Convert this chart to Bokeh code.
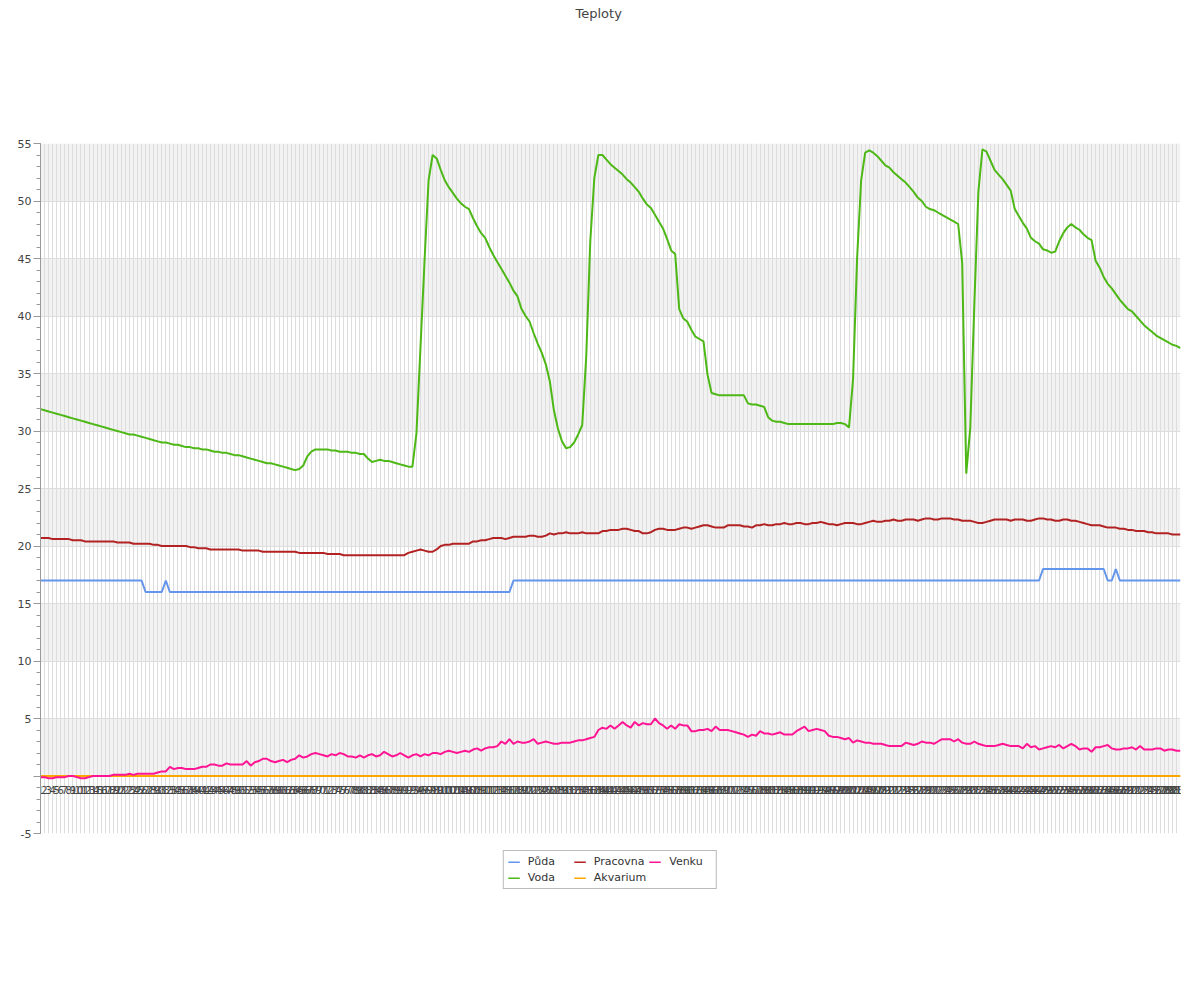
from bokeh.plotting import figure
from bokeh.models import (Range1d, FixedTicker, SingleIntervalTicker, BoxAnnotation, Span,
                          Legend, LegendItem, Grid, Title)
from bokeh.core.properties import value
from bokeh.embed import file_html
from bokeh.resources import INLINE

labels = [str(i) for i in range(1, 284)]

puda = [
    17, 17, 17, 17, 17, 17, 17, 17, 17, 17,
    17, 17, 17, 17, 17, 17, 17, 17, 17, 17,
    17, 17, 17, 17, 17, 17, 16, 16, 16, 16,
    16, 17, 16, 16, 16, 16, 16, 16, 16, 16,
    16, 16, 16, 16, 16, 16, 16, 16, 16, 16,
    16, 16, 16, 16, 16, 16, 16, 16, 16, 16,
    16, 16, 16, 16, 16, 16, 16, 16, 16, 16,
    16, 16, 16, 16, 16, 16, 16, 16, 16, 16,
    16, 16, 16, 16, 16, 16, 16, 16, 16, 16,
    16, 16, 16, 16, 16, 16, 16, 16, 16, 16,
    16, 16, 16, 16, 16, 16, 16, 16, 16, 16,
    16, 16, 16, 16, 16, 16, 16, 17, 17, 17,
    17, 17, 17, 17, 17, 17, 17, 17, 17, 17,
    17, 17, 17, 17, 17, 17, 17, 17, 17, 17,
    17, 17, 17, 17, 17, 17, 17, 17, 17, 17,
    17, 17, 17, 17, 17, 17, 17, 17, 17, 17,
    17, 17, 17, 17, 17, 17, 17, 17, 17, 17,
    17, 17, 17, 17, 17, 17, 17, 17, 17, 17,
    17, 17, 17, 17, 17, 17, 17, 17, 17, 17,
    17, 17, 17, 17, 17, 17, 17, 17, 17, 17,
    17, 17, 17, 17, 17, 17, 17, 17, 17, 17,
    17, 17, 17, 17, 17, 17, 17, 17, 17, 17,
    17, 17, 17, 17, 17, 17, 17, 17, 17, 17,
    17, 17, 17, 17, 17, 17, 17, 17, 17, 17,
    17, 17, 17, 17, 17, 17, 17, 17, 18, 18,
    18, 18, 18, 18, 18, 18, 18, 18, 18, 18,
    18, 18, 18, 18, 17, 17, 18, 17, 17, 17,
    17, 17, 17, 17, 17, 17, 17, 17, 17, 17,
    17, 17, 17,
]

voda = [
    31.9, 31.8, 31.7, 31.6, 31.5, 31.4, 31.3, 31.2, 31.1, 31.0,
    30.9, 30.8, 30.7, 30.6, 30.5, 30.4, 30.3, 30.2, 30.1, 30.0,
    29.9, 29.8, 29.7, 29.7, 29.6, 29.5, 29.4, 29.3, 29.2, 29.1,
    29.0, 29.0, 28.9, 28.8, 28.8, 28.7, 28.6, 28.6, 28.5, 28.5,
    28.4, 28.4, 28.3, 28.2, 28.2, 28.1, 28.1, 28.0, 27.9, 27.9,
    27.8, 27.7, 27.6, 27.5, 27.4, 27.3, 27.2, 27.2, 27.1, 27.0,
    26.9, 26.8, 26.7, 26.6, 26.7, 27.0, 27.8, 28.2, 28.4, 28.4,
    28.4, 28.4, 28.3, 28.3, 28.2, 28.2, 28.2, 28.1, 28.1, 28.0,
    28.0, 27.6, 27.3, 27.4, 27.5, 27.4, 27.4, 27.3, 27.2, 27.1,
    27.0, 26.9, 26.9, 29.8, 37.3, 44.8, 51.8, 54.0, 53.7, 52.7,
    51.8, 51.2, 50.7, 50.2, 49.8, 49.5, 49.3, 48.5, 47.8, 47.2,
    46.8, 46.0, 45.3, 44.7, 44.1, 43.5, 42.9, 42.2, 41.7, 40.6,
    40.0, 39.5, 38.5, 37.6, 36.8, 35.8, 34.3, 31.8, 30.2, 29.1,
    28.5, 28.6, 29.0, 29.7, 30.5, 36.5, 46.5, 52.0, 54.0, 54.0,
    53.6, 53.2, 52.9, 52.6, 52.3, 51.9, 51.6, 51.2, 50.8, 50.2,
    49.7, 49.4, 48.8, 48.2, 47.6, 46.7, 45.7, 45.4, 40.6, 39.8,
    39.5, 38.8, 38.2, 38.0, 37.8, 34.9, 33.3, 33.2, 33.1, 33.1,
    33.1, 33.1, 33.1, 33.1, 33.1, 32.4, 32.3, 32.3, 32.2, 32.1,
    31.2, 30.9, 30.8, 30.8, 30.7, 30.6, 30.6, 30.6, 30.6, 30.6,
    30.6, 30.6, 30.6, 30.6, 30.6, 30.6, 30.6, 30.7, 30.7, 30.6,
    30.3, 34.5, 45.0, 51.8, 54.2, 54.4, 54.2, 53.9, 53.5, 53.1,
    52.9, 52.5, 52.2, 51.9, 51.6, 51.2, 50.8, 50.3, 50.0, 49.5,
    49.3, 49.2, 49.0, 48.8, 48.6, 48.4, 48.2, 48.0, 44.6, 26.3,
    30.3, 41.0, 50.8, 54.5, 54.3, 53.5, 52.7, 52.3, 51.9, 51.4,
    50.9, 49.3, 48.7, 48.1, 47.6, 46.8, 46.5, 46.3, 45.8, 45.7,
    45.5, 45.6, 46.5, 47.2, 47.7, 48.0, 47.7, 47.5, 47.1, 46.8,
    46.6, 44.8, 44.2, 43.4, 42.8, 42.4, 41.9, 41.4, 41.0, 40.6,
    40.4, 40.0, 39.6, 39.2, 38.9, 38.6, 38.3, 38.1, 37.9, 37.7,
    37.5, 37.4, 37.2,
]

pracovna = [
    20.7, 20.7, 20.7, 20.6, 20.6, 20.6, 20.6, 20.6, 20.5, 20.5,
    20.5, 20.4, 20.4, 20.4, 20.4, 20.4, 20.4, 20.4, 20.4, 20.3,
    20.3, 20.3, 20.3, 20.2, 20.2, 20.2, 20.2, 20.2, 20.1, 20.1,
    20.0, 20.0, 20.0, 20.0, 20.0, 20.0, 20.0, 19.9, 19.9, 19.8,
    19.8, 19.8, 19.7, 19.7, 19.7, 19.7, 19.7, 19.7, 19.7, 19.7,
    19.6, 19.6, 19.6, 19.6, 19.6, 19.5, 19.5, 19.5, 19.5, 19.5,
    19.5, 19.5, 19.5, 19.5, 19.4, 19.4, 19.4, 19.4, 19.4, 19.4,
    19.4, 19.3, 19.3, 19.3, 19.3, 19.2, 19.2, 19.2, 19.2, 19.2,
    19.2, 19.2, 19.2, 19.2, 19.2, 19.2, 19.2, 19.2, 19.2, 19.2,
    19.2, 19.4, 19.5, 19.6, 19.7, 19.6, 19.5, 19.5, 19.7, 20.0,
    20.1, 20.1, 20.2, 20.2, 20.2, 20.2, 20.2, 20.4, 20.4, 20.5,
    20.5, 20.6, 20.7, 20.7, 20.7, 20.6, 20.7, 20.8, 20.8, 20.8,
    20.8, 20.9, 20.9, 20.8, 20.8, 20.9, 21.1, 21.0, 21.1, 21.1,
    21.2, 21.1, 21.1, 21.1, 21.2, 21.1, 21.1, 21.1, 21.1, 21.3,
    21.3, 21.4, 21.4, 21.4, 21.5, 21.5, 21.4, 21.3, 21.3, 21.1,
    21.1, 21.2, 21.4, 21.5, 21.5, 21.4, 21.4, 21.4, 21.5, 21.6,
    21.6, 21.5, 21.6, 21.7, 21.8, 21.8, 21.7, 21.6, 21.6, 21.6,
    21.8, 21.8, 21.8, 21.8, 21.7, 21.7, 21.6, 21.8, 21.8, 21.9,
    21.8, 21.8, 21.9, 21.9, 22.0, 21.9, 21.9, 22.0, 22.0, 21.9,
    21.9, 22.0, 22.0, 22.1, 22.0, 21.9, 21.9, 21.8, 21.9, 22.0,
    22.0, 22.0, 21.9, 21.9, 22.0, 22.1, 22.2, 22.1, 22.1, 22.2,
    22.2, 22.3, 22.2, 22.2, 22.3, 22.3, 22.3, 22.2, 22.3, 22.4,
    22.4, 22.3, 22.3, 22.4, 22.4, 22.4, 22.3, 22.3, 22.2, 22.2,
    22.2, 22.1, 22.0, 22.0, 22.1, 22.2, 22.3, 22.3, 22.3, 22.3,
    22.2, 22.3, 22.3, 22.3, 22.2, 22.2, 22.3, 22.4, 22.4, 22.3,
    22.3, 22.2, 22.2, 22.3, 22.3, 22.2, 22.2, 22.1, 22.0, 21.9,
    21.8, 21.8, 21.8, 21.7, 21.6, 21.6, 21.6, 21.5, 21.5, 21.4,
    21.4, 21.3, 21.3, 21.3, 21.2, 21.2, 21.1, 21.1, 21.1, 21.1,
    21.0, 21.0, 21.0,
]

akvarium = [0.0] * 283

venku = [
    -0.1, -0.1, -0.2, -0.2, -0.1, -0.1, -0.1, 0.0, 0.0, -0.1,
    -0.2, -0.2, -0.1, 0.0, 0.0, 0.0, 0.0, 0.0, 0.1, 0.1,
    0.1, 0.1, 0.2, 0.1, 0.2, 0.2, 0.2, 0.2, 0.2, 0.3,
    0.4, 0.4, 0.8, 0.6, 0.7, 0.7, 0.6, 0.6, 0.6, 0.7,
    0.8, 0.8, 1.0, 1.0, 0.9, 0.9, 1.1, 1.0, 1.0, 1.0,
    1.0, 1.3, 0.9, 1.2, 1.3, 1.5, 1.5, 1.3, 1.2, 1.3,
    1.4, 1.2, 1.4, 1.5, 1.8, 1.6, 1.7, 1.9, 2.0, 1.9,
    1.8, 1.7, 1.9, 1.8, 2.0, 1.9, 1.7, 1.7, 1.6, 1.8,
    1.6, 1.8, 1.9, 1.7, 1.8, 2.1, 1.9, 1.7, 1.8, 2.0,
    1.8, 1.6, 1.8, 1.9, 1.7, 1.9, 1.8, 2.0, 2.0, 1.9,
    2.1, 2.2, 2.1, 2.0, 2.1, 2.2, 2.1, 2.3, 2.4, 2.2,
    2.4, 2.5, 2.5, 2.6, 3.0, 2.8, 3.2, 2.8, 3.0, 2.9,
    2.9, 3.0, 3.2, 2.8, 2.9, 3.0, 2.9, 2.8, 2.8, 2.9,
    2.9, 2.9, 3.0, 3.1, 3.1, 3.2, 3.3, 3.4, 4.0, 4.2,
    4.1, 4.4, 4.1, 4.4, 4.7, 4.4, 4.2, 4.7, 4.4, 4.6,
    4.5, 4.5, 5.0, 4.6, 4.4, 4.1, 4.4, 4.1, 4.5, 4.4,
    4.4, 3.9, 3.9, 4.0, 4.0, 4.1, 3.9, 4.3, 4.0, 4.0,
    4.0, 3.9, 3.8, 3.7, 3.6, 3.4, 3.6, 3.5, 3.9, 3.7,
    3.7, 3.6, 3.7, 3.8, 3.6, 3.6, 3.6, 3.9, 4.1, 4.3,
    3.9, 4.0, 4.1, 4.0, 3.9, 3.5, 3.4, 3.4, 3.3, 3.2,
    3.3, 2.9, 3.1, 3.0, 2.9, 2.9, 2.8, 2.8, 2.8, 2.7,
    2.6, 2.6, 2.6, 2.6, 2.9, 2.8, 2.7, 2.8, 3.0, 2.9,
    2.9, 2.8, 3.0, 3.2, 3.2, 3.2, 3.0, 3.2, 2.9, 2.8,
    2.8, 3.0, 2.8, 2.7, 2.6, 2.6, 2.6, 2.7, 2.8, 2.7,
    2.6, 2.6, 2.6, 2.4, 2.8, 2.5, 2.6, 2.3, 2.4, 2.5,
    2.6, 2.5, 2.7, 2.4, 2.6, 2.8, 2.6, 2.3, 2.4, 2.4,
    2.1, 2.5, 2.5, 2.6, 2.7, 2.4, 2.3, 2.3, 2.4, 2.4,
    2.5, 2.3, 2.6, 2.3, 2.3, 2.3, 2.4, 2.4, 2.2, 2.3,
    2.3, 2.2, 2.2,
]

title_text = "Teploty"
series_names = ["Půda", "Voda", "Pracovna", "Akvarium", "Venku"]
series_values = [puda, voda, pracovna, akvarium, venku]
series_colors = ["#6495ED", "#4DB816", "#B22222", "#FFA500", "#FF1493"]

FONT = "DejaVu Sans"
N = len(labels)
xs = list(range(N))
FRAME_W, FRAME_H = 1140, 690

p = figure(width=40 + FRAME_W + 12, height=143 + FRAME_H + 80,
           output_backend="svg", toolbar_location=None, title=None,
           x_range=Range1d(0, N - 1), y_range=Range1d(-5, 55),
           x_axis_type=None, frame_width=FRAME_W, frame_height=FRAME_H,
           min_border_left=40, min_border_right=12, min_border_top=0, min_border_bottom=80)
p.outline_line_color = None
p.background_fill_color = "white"

# title: a blank spacer nearest the frame, then the real title above it
spacer = Title(text=" ", text_font_size="89px", text_font=FONT)
p.add_layout(spacer, "above")
main_title = Title(text=title_text, align="left", offset=535, vertical_align="top",
                   text_font=FONT, text_font_size="13px", text_font_style="normal",
                   text_color="#444444")
p.add_layout(main_title, "above")

# alternating bands
for lo in range(0, 55, 10):
    p.add_layout(BoxAnnotation(bottom=lo, top=lo + 5, fill_color="#f2f2f2", fill_alpha=1.0,
                               line_color=None, level="image"))

# y axis
yax = p.yaxis[0]
yax.ticker = SingleIntervalTicker(interval=5, num_minor_ticks=5)
yax.axis_line_color = "#999999"
yax.major_tick_line_color = "#999999"
yax.minor_tick_line_color = "#999999"
yax.major_tick_out = 7
yax.major_tick_in = 0
yax.minor_tick_out = 4
yax.minor_tick_in = 0
yax.major_label_standoff = 2
yax.major_label_text_font = FONT
yax.major_label_text_font_size = "11px"
yax.major_label_text_color = "#444444"
yax.major_label_overrides = {0: "", -5: "-5"}

p.ygrid.grid_line_color = "#dddddd"
xgrid = Grid(dimension=0, ticker=FixedTicker(ticks=xs), grid_line_color="#dddddd")
p.add_layout(xgrid)

p.add_layout(Span(location=0, dimension="width", line_color="#999999", line_width=1, level="underlay"))

items = []
for name, vals, col in zip(series_names, series_values, series_colors):
    r = p.line(xs, vals, line_color=col, line_width=2)
    items.append(LegendItem(label=name, renderers=[r]))

# category labels along the zero line
p.text(x=xs, y=[0] * N, text=labels, text_align="center", text_baseline="middle",
       y_offset=14, text_font=value(FONT), text_font_size="10px", text_color="#444444")

legend = Legend(items=items, orientation="vertical", nrows=2, location="top_center",
                border_line_color="#777777", border_line_width=1,
                background_fill_color="white", background_fill_alpha=1.0,
                label_text_font=FONT, label_text_font_size="11px", label_text_color="#333333",
                glyph_width=12, glyph_height=2, label_height=2, label_width=43,
                label_standoff=8, spacing=3, padding=4, margin=17)
p.add_layout(legend, "below")

open("out.html", "w").write(file_html(p, INLINE))
